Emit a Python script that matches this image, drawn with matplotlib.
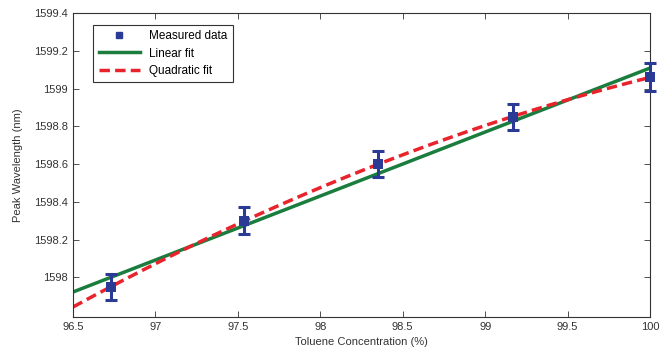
import numpy as np
import matplotlib
matplotlib.use('Agg')
import matplotlib.pyplot as plt
from matplotlib.lines import Line2D

plt.rcParams['font.family'] = ['Liberation Sans', 'DejaVu Sans']
plt.rcParams['font.size'] = 8

# measured data (toluene concentration %, peak wavelength nm, error)
conc = np.array([96.73, 97.54, 98.35, 99.17, 100.0])
peak = np.array([1597.95, 1598.30, 1598.60, 1598.85, 1599.06])
err = np.array([0.07, 0.07, 0.07, 0.07, 0.075])

# fits from the data
xf = np.linspace(96.5, 100, 200)
lin = np.polyval(np.polyfit(conc, peak, 1), xf)
quad = np.polyval(np.polyfit(conc, peak, 2), xf)

blue = '#2b3a94'
green = '#1a7d3e'
red = '#e8232b'

fig = plt.figure(figsize=(6.6, 3.57), dpi=100)
ax = fig.add_axes([73/660, 1-317/357, (650-73)/660, (317-13)/357])

ax.plot(xf, lin, color=green, lw=2.5, zorder=2)
ax.plot(xf, quad, color=red, lw=2.5, ls=(0, (3, 1.5)), zorder=2)
eb = ax.errorbar(conc, peak, yerr=err, fmt='none', ecolor=blue,
                 elinewidth=2.2, capsize=4, capthick=2.2, zorder=4)
for art in tuple(eb.lines[1]) + tuple(eb.lines[2]):
    art.set_clip_on(False)
ax.plot(conc, peak, ls='none', marker='s', ms=7, mew=0, color=blue,
        zorder=5, clip_on=False)

ax.set_xlim(96.5, 100)
ax.set_ylim(1597.79, 1599.4)
ax.set_xticks([96.5, 97, 97.5, 98, 98.5, 99, 99.5, 100])
ax.set_xticklabels(['96.5', '97', '97.5', '98', '98.5', '99', '99.5', '100'])
ax.set_yticks([1598, 1598.2, 1598.4, 1598.6, 1598.8, 1599, 1599.2, 1599.4])
ax.set_yticklabels(['1598', '1598.2', '1598.4', '1598.6', '1598.8', '1599', '1599.2', '1599.4'])
ax.tick_params(direction='in', top=True, right=True, length=4, width=0.6, colors='#333333')
for s in ax.spines.values():
    s.set_linewidth(0.8)
    s.set_color('#333333')

ax.set_xlabel('Toluene Concentration (%)', color='#333333')
ax.set_ylabel('Peak Wavelength (nm)', color='#333333', labelpad=8)

handles = [
    Line2D([], [], ls='none', marker='s', ms=5, color=blue, mec=blue, mfc=blue),
    Line2D([], [], color=green, lw=2.5),
    Line2D([], [], color=red, lw=2.5, ls=(0, (3, 1.5))),
]
labels = ['Measured data', 'Linear fit', 'Quadratic fit']
leg = ax.legend(handles, labels, loc='upper left', prop={'size': 8.5},
                bbox_to_anchor=(0.025, 0.98), fancybox=False, edgecolor='#333333',
                framealpha=1, handlelength=3.5, borderpad=0.45, labelspacing=0.45)
leg.get_frame().set_linewidth(0.8)

fig.savefig('out.png', dpi=100)
